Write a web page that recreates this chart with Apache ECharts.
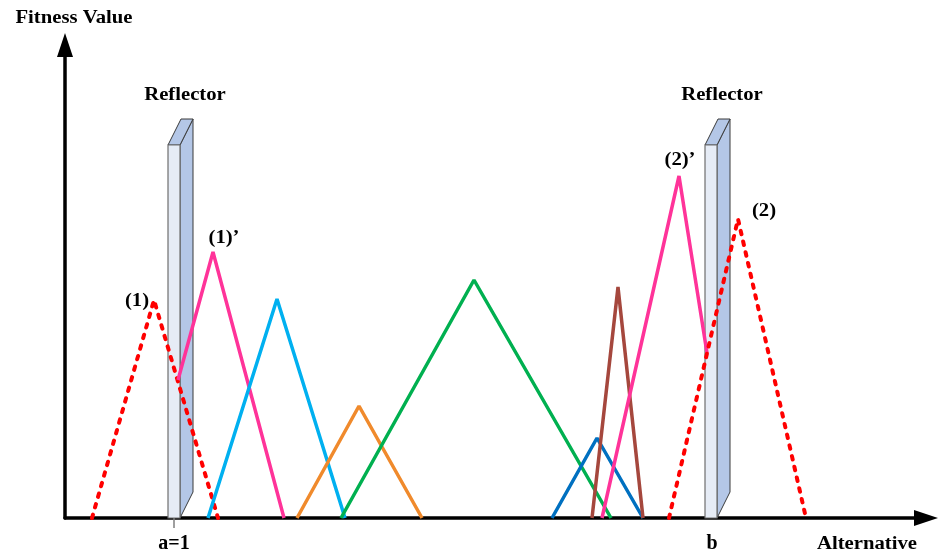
<!DOCTYPE html>
<html>
<head>
<meta charset="utf-8">
<script src="https://cdn.jsdelivr.net/npm/echarts@6/dist/echarts.min.js"></script>
<style>html,body{margin:0;padding:0;background:#fff}#main{width:938px;height:556px}</style>
</head>
<body>
<div id="main"></div>
<script>
// ---- data (x: alternative position, y: fitness value) ----
const red1   = [[27, 0], [89, 218], [153, 0]];
const pink1  = [[113, 138], [148, 266], [219, 0]];
const cyan   = [[143, 0], [212, 219], [280, 0]];
const orange = [[232, 0], [294, 112], [357, 0]];
const green  = [[276, 0], [409, 238], [546, 0]];
const blue   = [[487, 0], [532, 80], [578, 0]];
const brown  = [[527, 0], [553, 231], [578, 0]];
const pink2  = [[537, 0], [614, 342], [642, 165]];
const red2   = [[604, 0], [673, 299], [741, 0]];
const reflectors = [[103, 373], [640, 373]];
const reflectorLabel = 'Reflector';
const peakLabels = ['(1)', '(1)\u2019', '(2)\u2019', '(2)'];
const peakPoints = [red1[1], pink1[1], pink2[1], red2[1]];
const tickValues = [109];
const tickLabelValues = [109, 647];
const tickLabels = ['a=1', 'b'];
const xMax = 861, yMax = 473;

const FONT = 'Liberation Serif, Times New Roman, serif';
const labelOffsets = [[-17, 1], [11, -14], [1, -16], [26, -8]];

function lineSeries(name, data, color, dashed) {
  return {
    type: 'line', name: name, data: data, z: 5,
    symbol: 'none', animation: false, silent: true,
    lineStyle: dashed
      ? { color: color, width: 4, type: [3.5, 7.5], cap: 'round' }
      : { color: color, width: 3.5 }
  };
}

const chart = echarts.init(document.getElementById('main'), null, { renderer: 'canvas' });
chart.setOption({
  animation: false,
  grid: { left: 65, right: 12, top: 45, bottom: 38 },
  xAxis: {
    type: 'value', min: 0, max: xMax,
    splitLine: { show: false },
    axisLine: { show: true, lineStyle: { color: '#000', width: 3.5 }, symbol: ['none', 'triangle'], symbolSize: [16, 24] },
    axisTick: { show: true, customValues: tickValues, length: 10, lineStyle: { color: '#7f7f7f', width: 1.5 } },
    axisLabel: {
      show: true, customValues: tickLabelValues, margin: 16,
      formatter: function (v) { const i = tickLabelValues.indexOf(v); return i >= 0 ? tickLabels[i] : ''; },
      fontFamily: FONT, fontWeight: 'bold', fontSize: 20, color: '#000'
    }
  },
  yAxis: {
    type: 'value', min: 0, max: yMax,
    splitLine: { show: false },
    axisLine: { show: true, lineStyle: { color: '#000', width: 3.5 }, symbol: ['none', 'triangle'], symbolSize: [16, 24] },
    axisTick: { show: false },
    axisLabel: { show: false }
  },
  graphic: [
    { type: 'text', x: 74, y: 18, scaleX: 1.15, style: { text: 'Fitness Value', font: 'bold 18px ' + FONT, fill: '#000', align: 'center', verticalAlign: 'middle' } },
    { type: 'text', x: 867, y: 544, scaleX: 1.15, style: { text: 'Alternative', font: 'bold 18px ' + FONT, fill: '#000', align: 'center', verticalAlign: 'middle' } }
  ],
  series: [
    {
      type: 'custom', z: 1, clip: false, silent: true,
      data: reflectors,
      renderItem: function (params, api) {
        const x = api.value(0), top = api.value(1);
        const pb = api.coord([x, 0]), pt = api.coord([x, top]);
        const w = 12, dx = 13, dy = 26;
        const x0 = pb[0], yb = pb[1], yt = pt[1];
        return {
          type: 'group',
          children: [
            { type: 'polygon', shape: { points: [[x0 + w, yt], [x0 + w + dx, yt - dy], [x0 + w + dx, yb - dy], [x0 + w, yb]] },
              style: { fill: '#b4c7e7', stroke: '#3a3a3a', lineWidth: 1 } },
            { type: 'polygon', shape: { points: [[x0, yt], [x0 + dx, yt - dy], [x0 + w + dx, yt - dy], [x0 + w, yt]] },
              style: { fill: '#b4c7e7', stroke: '#3a3a3a', lineWidth: 1 } },
            { type: 'rect', shape: { x: x0, y: yt, width: w, height: yb - yt },
              style: { fill: '#e6ecf6', stroke: '#6f6f6f', lineWidth: 1.2 } },
            { type: 'text', x: x0 + 17, y: yt - 50, scaleX: 1.15,
              style: { text: reflectorLabel, font: 'bold 18px ' + FONT, fill: '#000', align: 'center', verticalAlign: 'middle' } }
          ]
        };
      }
    },
    lineSeries('red1', red1, '#ff0000', true),
    lineSeries('pink1', pink1, '#ff3399', false),
    lineSeries('cyan', cyan, '#00b0f0', false),
    lineSeries('orange', orange, '#f08a2c', false),
    lineSeries('green', green, '#00b050', false),
    lineSeries('blue', blue, '#0070c0', false),
    lineSeries('brown', brown, '#a5473d', false),
    lineSeries('pink2', pink2, '#ff3399', false),
    lineSeries('red2', red2, '#ff0000', true),
    {
      type: 'custom', z: 6, clip: false, silent: true,
      data: peakPoints.map(function (p, i) { return [p[0], p[1], i]; }),
      renderItem: function (params, api) {
        const i = api.value(2);
        const p = api.coord([api.value(0), api.value(1)]);
        const off = labelOffsets[i];
        return { type: 'text', x: p[0] + off[0], y: p[1] + off[1], scaleX: 1.15,
          style: { text: peakLabels[i], font: 'bold 18px ' + FONT, fill: '#000', align: 'center', verticalAlign: 'middle' } };
      }
    }
  ]
});
</script>
</body>
</html>
